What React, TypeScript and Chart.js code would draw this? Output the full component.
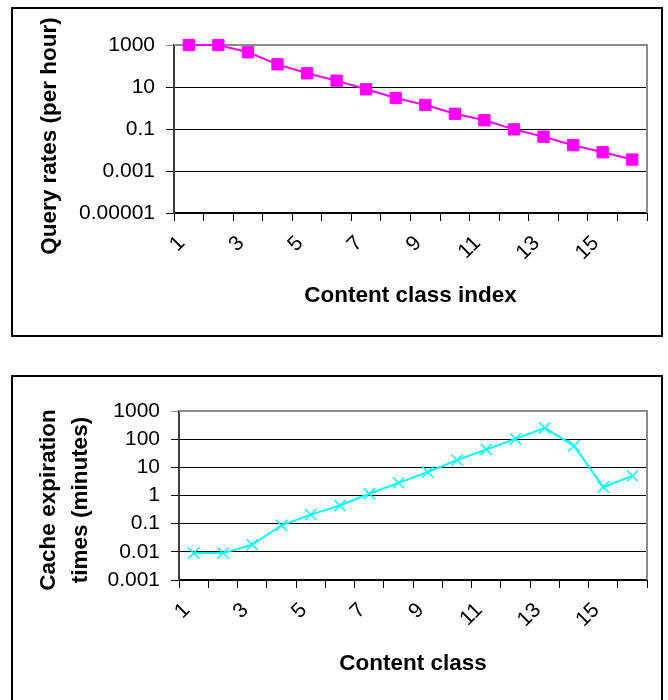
import React, { useEffect, useRef } from 'react';
import { Chart, registerables } from 'chart.js';

Chart.register(...registerables);

const categories = ['1', '2', '3', '4', '5', '6', '7', '8', '9', '10', '11', '12', '13', '14', '15', '16'];
const queryRates = [1000, 1000, 450, 120, 45, 20, 7.8, 3.0, 1.4, 0.53, 0.26, 0.096, 0.043, 0.017, 0.0078, 0.0035];
const cacheTimes = [0.009, 0.009, 0.018, 0.087, 0.21, 0.44, 1.15, 2.8, 6.8, 18, 43, 102, 250, 58, 2.0, 5.0];
const queryTickValues = [0.00001, 0.001, 0.1, 10, 1000];
const queryTickLabels = ['0.00001', '0.001', '0.1', '10', '1000'];
const cacheTickValues = [0.001, 0.01, 0.1, 1, 10, 100, 1000];
const cacheTickLabels = ['0.001', '0.01', '0.1', '1', '10', '100', '1000'];
const queryYTitle = ['Query rates (per hour)'];
const cacheYTitle = ['Cache expiration', 'times (minutes)'];

const FONT = '"Liberation Sans", Arial, sans-serif';

const framePlugin = {
  id: 'frame',
  beforeDatasetsDraw(chart: any) {
    const { ctx, chartArea } = chart;
    const { left, top, right, bottom } = chartArea;
    ctx.save();
    ctx.strokeStyle = '#8c8c8c';
    ctx.lineWidth = 2;
    ctx.beginPath();
    ctx.moveTo(left, top);
    ctx.lineTo(right, top);
    ctx.lineTo(right, bottom);
    ctx.stroke();
    ctx.restore();
  },
};

// draws the rotated y-axis title (possibly multi-line) at a given centre
const yTitlePlugin = {
  id: 'yTitle',
  afterDraw(chart: any, _args: any, opts: any) {
    const { ctx } = chart;
    const lines: string[] = opts.lines || [];
    ctx.save();
    ctx.translate(opts.x, opts.y);
    ctx.rotate(-Math.PI / 2);
    ctx.fillStyle = '#000';
    ctx.font = `bold ${opts.size}px ${FONT}`;
    ctx.textAlign = 'center';
    ctx.textBaseline = 'middle';
    lines.forEach((line, i) => {
      ctx.fillText(line, 0, i * opts.lineHeight);
    });
    ctx.restore();
  },
};

interface Cfg {
  data: number[];
  color: string;
  pointStyle: string;
  radius: number;
  pointBorderWidth: number;
  tickValues: number[];
  tickLabels: string[];
  yTitle: string[];
  yTitleX: number;
  yTitleY: number;
  yTitleLineHeight: number;
  xTitle: string;
  xTitlePad: number;
  yWidth: number;
  xHeight: number;
  padTop: number;
  padRight: number;
}

function makeConfig(c: Cfg): any {
  return {
    type: 'line',
    data: {
      labels: categories,
      datasets: [
        {
          data: c.data,
          borderColor: c.color,
          backgroundColor: c.color,
          borderWidth: 2,
          pointStyle: c.pointStyle,
          pointRadius: c.radius,
          pointBorderWidth: c.pointBorderWidth,
          pointBorderColor: c.color,
          pointBackgroundColor: c.color,
          tension: 0,
          clip: false,
        },
      ],
    },
    options: {
      animation: false,
      responsive: false,
      devicePixelRatio: 1,
      layout: { padding: { top: c.padTop, right: c.padRight, left: 0, bottom: 0 } },
      plugins: {
        legend: { display: false },
        tooltip: { enabled: false },
        yTitle: { lines: c.yTitle, x: c.yTitleX, y: c.yTitleY, size: 22.5, lineHeight: c.yTitleLineHeight },
      },
      scales: {
        x: {
          type: 'category',
          offset: true,
          grid: {
            offset: true,
            drawOnChartArea: false,
            drawTicks: true,
            tickLength: 8,
            color: '#000',
            lineWidth: 1,
          },
          border: { color: '#000', width: 2 },
          ticks: {
            autoSkip: false,
            minRotation: 45,
            maxRotation: 45,
            padding: 10,
            labelOffset: -7,
            color: '#000',
            font: { family: FONT, size: 21 },
            callback: (_v: any, i: number) => (i % 2 === 0 ? categories[i] : ''),
          },
          title: {
            display: true,
            text: c.xTitle,
            color: '#000',
            font: { family: FONT, size: 22.5, weight: 'bold' },
            padding: { top: 0, bottom: c.xTitlePad },
          },
          afterFit: (scale: any) => {
            scale.height = c.xHeight;
          },
        },
        y: {
          type: 'logarithmic',
          min: c.tickValues[0],
          max: c.tickValues[c.tickValues.length - 1],
          grid: {
            color: (ctx: any) =>
              ctx.tick && ctx.tick.value === c.tickValues[c.tickValues.length - 1] ? '#8c8c8c' : '#000',
            lineWidth: 1,
            tickLength: 8,
          },
          border: { color: '#404040', width: 2 },
          afterBuildTicks: (scale: any) => {
            scale.ticks = c.tickValues.map((v) => ({ value: v }));
          },
          ticks: {
            autoSkip: false,
            padding: 11,
            color: '#000',
            font: { family: FONT, size: 21 },
            callback: (v: any) => {
              const i = c.tickValues.indexOf(v);
              return i >= 0 ? c.tickLabels[i] : '';
            },
          },
          afterFit: (scale: any) => {
            scale.width = c.yWidth;
          },
        },
      },
    },
    plugins: [framePlugin, yTitlePlugin],
  };
}

function ChartCanvas(props: { cfg: Cfg; left: number; top: number; width: number; height: number }) {
  const ref = useRef<HTMLCanvasElement | null>(null);
  useEffect(() => {
    if (!ref.current) return;
    const chart = new Chart(ref.current, makeConfig(props.cfg));
    return () => chart.destroy();
  }, []);
  return (
    <canvas
      ref={ref}
      width={props.width}
      height={props.height}
      style={{ position: 'absolute', left: props.left, top: props.top, width: props.width, height: props.height }}
    />
  );
}

const boxStyle = (top: number, height: number): React.CSSProperties => ({
  position: 'absolute',
  left: 11,
  top,
  width: 652,
  height,
  border: '2px solid #000',
  boxSizing: 'border-box',
  background: '#fff',
});

export default function App() {
  const topCfg: Cfg = {
    data: queryRates,
    color: '#ff00ff',
    pointStyle: 'rect',
    radius: 8,
    pointBorderWidth: 1,
    tickValues: queryTickValues,
    tickLabels: queryTickLabels,
    yTitle: queryYTitle,
    yTitleX: 37,
    yTitleY: 127,
    yTitleLineHeight: 27,
    xTitle: 'Content class index',
    xTitlePad: 26,
    yWidth: 161,
    xHeight: 122,
    padTop: 36,
    padRight: 14,
  };
  const bottomCfg: Cfg = {
    data: cacheTimes,
    color: '#00ffff',
    pointStyle: 'crossRot',
    radius: 8,
    pointBorderWidth: 1.5,
    tickValues: cacheTickValues,
    tickLabels: cacheTickLabels,
    yTitle: cacheYTitle,
    yTitleX: 35.5,
    yTitleY: 123,
    yTitleLineHeight: 32.4,
    xTitle: 'Content class',
    xTitlePad: 23,
    yWidth: 166,
    xHeight: 120,
    padTop: 34,
    padRight: 14,
  };
  return (
    <div>
      <div style={boxStyle(7, 330)} />
      <div style={boxStyle(375, 340)} />
      <ChartCanvas cfg={topCfg} left={13} top={9} width={648} height={326} />
      <ChartCanvas cfg={bottomCfg} left={13} top={377} width={648} height={323} />
    </div>
  );
}
